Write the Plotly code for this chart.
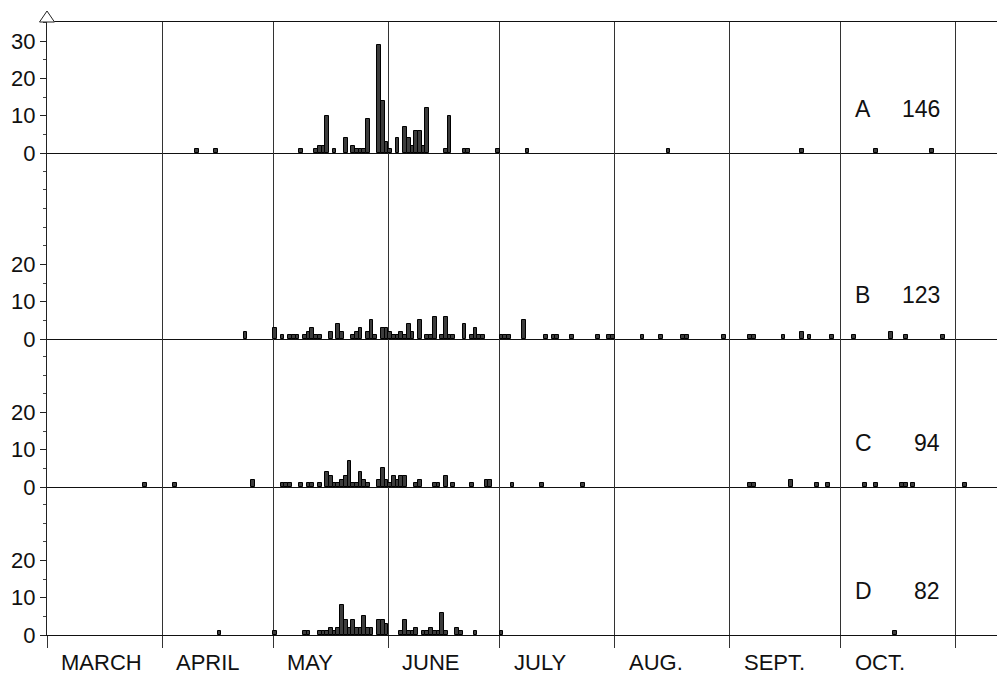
import plotly.graph_objects as go
from plotly.subplots import make_subplots

# Season runs from 1 March (day 0); each bar is one day
month_names = ["MARCH", "APRIL", "MAY", "JUNE", "JULY", "AUG.", "SEPT.", "OCT."]
month_lengths = [31, 30, 31, 30, 31, 31, 30, 31]

panel_names = ["A", "B", "C", "D"]
panel_totals = [146, 123, 94, 82]

a_days = [40, 45, 68, 72, 73, 74, 75, 77, 80, 82, 83, 84, 85, 86, 89, 90, 91,
          92, 94, 96, 97, 98, 99, 100, 101, 102, 107, 108, 112, 113, 121,
          129, 167, 203, 223, 238]
a_counts = [1, 1, 1, 1, 2, 2, 10, 1, 4, 2, 1, 1, 1, 9, 29, 14, 3,
            1, 4, 7, 4, 2, 6, 6, 2, 12, 1, 10, 1, 1, 1,
            1, 1, 1, 1, 1]

b_days = [53, 61, 63, 65, 66, 67, 69, 70, 71, 72, 73, 76, 78, 79, 82, 83, 84, 86,
          87, 88, 90, 91, 92, 93, 94, 95, 96, 97, 98, 100, 102, 103, 104, 106,
          107, 108, 109, 112, 114, 115, 116, 117, 122, 123, 124, 128, 134, 136,
          137, 141, 148, 151, 152, 160, 165, 171, 172, 182, 189, 190, 198, 203,
          205, 211, 217, 227, 231, 241]
b_counts = [2, 3, 1, 1, 1, 1, 1, 2, 3, 1, 1, 2, 4, 2, 1, 2, 3, 2,
            5, 1, 3, 3, 2, 1, 1, 2, 1, 4, 2, 5, 1, 1, 6, 1,
            6, 1, 1, 4, 1, 3, 1, 1, 1, 1, 1, 5, 1, 1,
            1, 1, 1, 1, 1, 1, 1, 1, 1, 1, 1, 1, 1, 2,
            1, 1, 1, 2, 1, 1]

c_days = [26, 34, 55, 63, 64, 65, 68, 70, 71, 73, 75, 76, 77, 78, 79, 80, 81, 82,
          83, 84, 85, 86, 89, 90, 91, 92, 93, 94, 95, 96, 99, 100, 104, 105, 107,
          109, 114, 118, 119, 125, 133, 144, 189, 190, 200, 207, 210, 220, 223,
          230, 231, 233, 247]
c_counts = [1, 1, 2, 1, 1, 1, 1, 1, 1, 1, 4, 3, 1, 1, 2, 3, 7, 1,
            1, 4, 2, 1, 2, 5, 2, 1, 3, 2, 3, 3, 1, 2, 1, 1, 3,
            1, 1, 2, 2, 1, 1, 1, 1, 1, 2, 1, 1, 1, 1,
            1, 1, 1, 1]

d_days = [46, 61, 69, 70, 73, 74, 75, 76, 77, 78, 79, 80, 81, 82, 83, 84, 85, 86,
          87, 89, 90, 91, 95, 96, 97, 98, 99, 101, 102, 103, 104, 105, 106, 107,
          110, 111, 115, 122, 228]
d_counts = [1, 1, 1, 1, 1, 1, 1, 2, 1, 2, 8, 4, 2, 4, 2, 2, 5, 2,
            2, 4, 4, 3, 1, 4, 1, 1, 2, 1, 1, 2, 1, 1, 6, 1,
            2, 1, 1, 1, 1]

a_ticks = [0, 10, 20, 30]
bcd_ticks = [0, 10, 20]

series = [(a_days, a_counts), (b_days, b_counts), (c_days, c_counts), (d_days, d_counts)]

# layout geometry (pixels)
W, H = 997, 675
px_per_day = 3.71
px_per_unit = 3.73
panel_px = [131, 186, 148, 148]
top_m, bot_m, left_m = 22, 40, 47

month_starts = [0]
for n in month_lengths:
    month_starts.append(month_starts[-1] + n)

x_max = (W - left_m) / px_per_day

fig = make_subplots(rows=4, cols=1, shared_xaxes=True, vertical_spacing=0,
                    row_heights=panel_px)

FONT = "Liberation Sans"
for i, (days, counts) in enumerate(series):
    fig.add_trace(go.Bar(x=[d + 0.5 for d in days], y=counts, width=1,
                         marker=dict(color="#3c3c3c", line=dict(color="#000", width=1)),
                         showlegend=False, hoverinfo="x+y"), row=i + 1, col=1)

for i in range(4):
    r = i + 1
    ymax = panel_px[i] / px_per_unit
    majors = a_ticks if i == 0 else bcd_ticks
    minors = [v for v in range(5, int(ymax) + 1, 5) if v not in majors]
    fig.update_yaxes(row=r, col=1, range=[0, ymax], tickmode="array", tickvals=majors,
                     ticks="outside", ticklen=6, tickcolor="#222", tickwidth=1,
                     showline=True, linecolor="#222", linewidth=1,
                     showgrid=False, zeroline=False,
                     tickfont=dict(family=FONT, size=22, color="#111"),
                     minor=dict(tickmode="array", tickvals=minors, ticks="outside",
                                ticklen=3, tickcolor="#444", showgrid=False))
    fig.update_xaxes(row=r, col=1, range=[0, x_max], tickmode="array",
                     tickvals=month_starts if r == 4 else month_starts[1:],
                     showticklabels=False,
                     showgrid=True, gridcolor="#333", gridwidth=1,
                     showline=True, linecolor="#111", linewidth=1.2,
                     zeroline=False,
                     ticks="outside" if r == 4 else "", ticklen=12,
                     tickcolor="#333", tickwidth=1,
                     mirror=(r == 1))
    # panel label and total
    yref = ("y" if r == 1 else f"y{r}") + " domain"
    fig.add_annotation(xref="paper", yref=yref, x=(853 - left_m) / (W - left_m), y=0,
                       yshift=44, xanchor="left", yanchor="middle", showarrow=False,
                       text=panel_names[i], font=dict(family=FONT, size=23, color="#111"))
    fig.add_annotation(xref="paper", yref=yref, x=(942 - left_m) / (W - left_m), y=0,
                       yshift=44, xanchor="right", yanchor="middle", showarrow=False,
                       text=str(panel_totals[i]), font=dict(family=FONT, size=23, color="#111"))

# month names under the bottom panel
for name, start in zip(month_names, month_starts[:-1]):
    fig.add_annotation(xref="x4", yref="y4 domain", x=start, y=0, xshift=12, yshift=-27,
                       xanchor="left", yanchor="middle", showarrow=False, text=name,
                       font=dict(family=FONT, size=22, color="#111"))

# open arrow head on top of the y axis
plot_h = H - top_m - bot_m
dx = 7.5 / (W - left_m)
dy = 11 / plot_h
fig.add_shape(type="path", xref="paper", yref="paper",
              path=f"M {-dx} 1 L 0 {1 + dy} L {dx} 1 Z",
              line=dict(color="#222", width=1), fillcolor="white")

fig.update_layout(width=W, height=H, margin=dict(l=left_m, r=0, t=top_m, b=bot_m),
                  plot_bgcolor="white", paper_bgcolor="white", bargap=0)

fig.write_html("out.html", config={"displayModeBar": False},
               post_script="document.body.style.margin='0';document.body.style.padding='0';"
                           "document.body.style.overflow='hidden';")
